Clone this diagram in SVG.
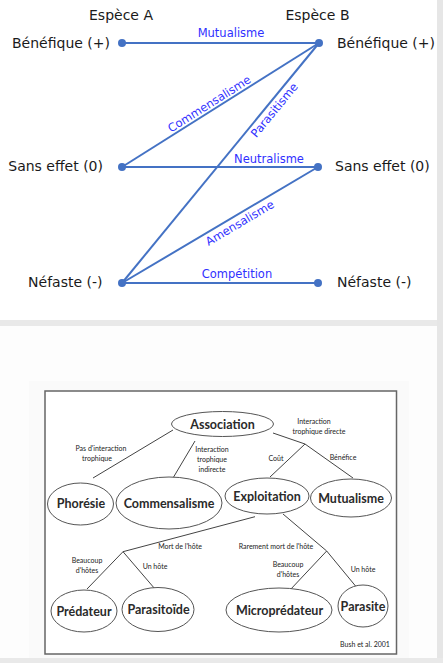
<svg xmlns="http://www.w3.org/2000/svg" width="443" height="663" viewBox="0 0 443 663">
<style>
.lbl{font-family:"DejaVu Sans",sans-serif;font-size:14px;fill:#1a1a1a}
.rel{font-family:"DejaVu Sans",sans-serif;font-size:11.5px;fill:#3030ff}
.ln{stroke:#4472c4;stroke-width:2;fill:none}
.dot{fill:#4472c4}
.el{fill:#fff;stroke:#555;stroke-width:1}
.nt{font-family:Lato,"Liberation Sans",sans-serif;font-weight:bold;font-size:12.5px;fill:#2a2a2a;text-anchor:middle}
.sm{font-family:Lato,"Liberation Sans",sans-serif;font-size:7px;fill:#222;text-anchor:middle}
.tl{stroke:#444;stroke-width:1;fill:none}
</style>
<rect x="0" y="0" width="443" height="663" fill="#fdfdfd"/>
<rect x="0" y="0" width="437" height="320" fill="#ffffff"/>
<rect x="0" y="320" width="443" height="6" fill="#e9e9e9"/>
<rect x="437" y="0" width="6" height="663" fill="#e6e6e6"/>
<rect x="0" y="658" width="443" height="5" fill="#e9e9e9"/>
<rect x="29" y="381" width="380" height="277" fill="#fafafa"/>

<text class="lbl" x="121" y="20" text-anchor="middle">Espèce A</text>
<text class="lbl" x="317.5" y="20" text-anchor="middle">Espèce B</text>

<g id="connectors">
<line class="ln" x1="122" y1="43" x2="319" y2="43"/>
<line class="ln" x1="122" y1="167" x2="319" y2="43"/>
<line class="ln" x1="122" y1="167" x2="318" y2="167"/>
<line class="ln" x1="122" y1="283" x2="319" y2="43"/>
<line class="ln" x1="122" y1="283" x2="318" y2="167"/>
<line class="ln" x1="122" y1="283" x2="318" y2="283"/>
<text class="rel" x="231" y="37" text-anchor="middle">Mutualisme</text>
<text class="rel" x="269" y="163" text-anchor="middle">Neutralisme</text>
<text class="rel" x="237" y="278" text-anchor="middle">Compétition</text>
<text class="rel" text-anchor="middle" transform="translate(211.4,107.2) rotate(-32.2)">Commensalisme</text>
<text class="rel" text-anchor="middle" transform="translate(277.4,112.6) rotate(-50.6)">Parasitisme</text>
<text class="rel" text-anchor="middle" transform="translate(241.8,226.3) rotate(-30.6)">Amensalisme</text>
</g>

<g id="a-benefique"><circle class="dot" cx="122" cy="43" r="4"/><text class="lbl" x="110" y="47.7" text-anchor="end">Bénéfique (+)</text></g>
<g id="a-sanseffet"><circle class="dot" cx="122" cy="167" r="4"/><text class="lbl" x="103" y="171" text-anchor="end">Sans effet (0)</text></g>
<g id="a-nefaste"><circle class="dot" cx="122" cy="283" r="4"/><text class="lbl" x="102.5" y="287" text-anchor="end">Néfaste (-)</text></g>
<g id="b-benefique"><circle class="dot" cx="319" cy="43" r="4"/><text class="lbl" x="337" y="47.7">Bénéfique (+)</text></g>
<g id="b-sanseffet"><circle class="dot" cx="318" cy="167" r="4"/><text class="lbl" x="335" y="171">Sans effet (0)</text></g>
<g id="b-nefaste"><circle class="dot" cx="318" cy="283" r="4"/><text class="lbl" x="337" y="287">Néfaste (-)</text></g>

<rect x="45" y="391" width="351.5" height="263" fill="#ffffff" stroke="#666" stroke-width="1.5"/>

<g id="tree-connectors">
<line class="tl" x1="173" y1="430" x2="93" y2="478"/>
<line class="tl" x1="195" y1="441" x2="173" y2="478"/>
<polyline class="tl" points="273,433 305,444 270,477"/>
<line class="tl" x1="305" y1="444" x2="353" y2="478"/>
<polyline class="tl" points="255,516.7 123,551.7 87,589"/>
<line class="tl" x1="123" y1="551.7" x2="155" y2="589"/>
<polyline class="tl" points="283,514 326.7,551 290,590"/>
<line class="tl" x1="326.7" y1="551" x2="358" y2="589"/>
<text class="sm" x="101" y="451">Pas d'interaction</text>
<text class="sm" x="97" y="461">trophique</text>
<text class="sm" x="212" y="452">Interaction</text>
<text class="sm" x="212" y="462">trophique</text>
<text class="sm" x="212" y="471.5">indirecte</text>
<text class="sm" x="314" y="424">Interaction</text>
<text class="sm" x="319" y="434">trophique directe</text>
<text class="sm" x="276" y="461">Coût</text>
<text class="sm" x="343" y="460">Bénéfice</text>
<text class="sm" x="180" y="548.5">Mort de l'hôte</text>
<text class="sm" x="276" y="548.5">Rarement mort de l'hôte</text>
<text class="sm" x="87" y="563">Beaucoup</text>
<text class="sm" x="87" y="573">d'hôtes</text>
<text class="sm" x="155" y="569">Un hôte</text>
<text class="sm" x="288" y="567">Beaucoup</text>
<text class="sm" x="288" y="577">d'hôtes</text>
<text class="sm" x="363" y="572">Un hôte</text>
<text class="sm" x="365" y="647" font-size="5px">Bush et al. 2001</text>
</g>

<g id="association"><ellipse class="el" cx="222.5" cy="424" rx="51" ry="12.5"/><text class="nt" x="222.5" y="428.5">Association</text></g>
<g id="phoresie"><ellipse class="el" cx="80.5" cy="504" rx="33" ry="21"/><text class="nt" x="81" y="507.5">Phorésie</text></g>
<g id="commensalisme"><ellipse class="el" cx="169" cy="503" rx="53" ry="26"/><text class="nt" x="169" y="508">Commensalisme</text></g>
<g id="exploitation"><ellipse class="el" cx="267" cy="496" rx="42" ry="18"/><text class="nt" x="267" y="501">Exploitation</text></g>
<g id="mutualisme"><ellipse class="el" cx="351" cy="498" rx="40.5" ry="19"/><text class="nt" x="351" y="503">Mutualisme</text></g>
<g id="predateur"><ellipse class="el" cx="84" cy="611" rx="33" ry="21"/><text class="nt" x="84" y="615.5">Prédateur</text></g>
<g id="parasitoide"><ellipse class="el" cx="158" cy="609.5" rx="36" ry="22"/><text class="nt" x="158.5" y="614">Parasitoïde</text></g>
<g id="micropredateur"><ellipse class="el" cx="279" cy="610" rx="53" ry="22"/><text class="nt" x="279.5" y="614.5">Microprédateur</text></g>
<g id="parasite"><ellipse class="el" cx="363" cy="606" rx="25" ry="21"/><text class="nt" x="363" y="610.5">Parasite</text></g>
</svg>
